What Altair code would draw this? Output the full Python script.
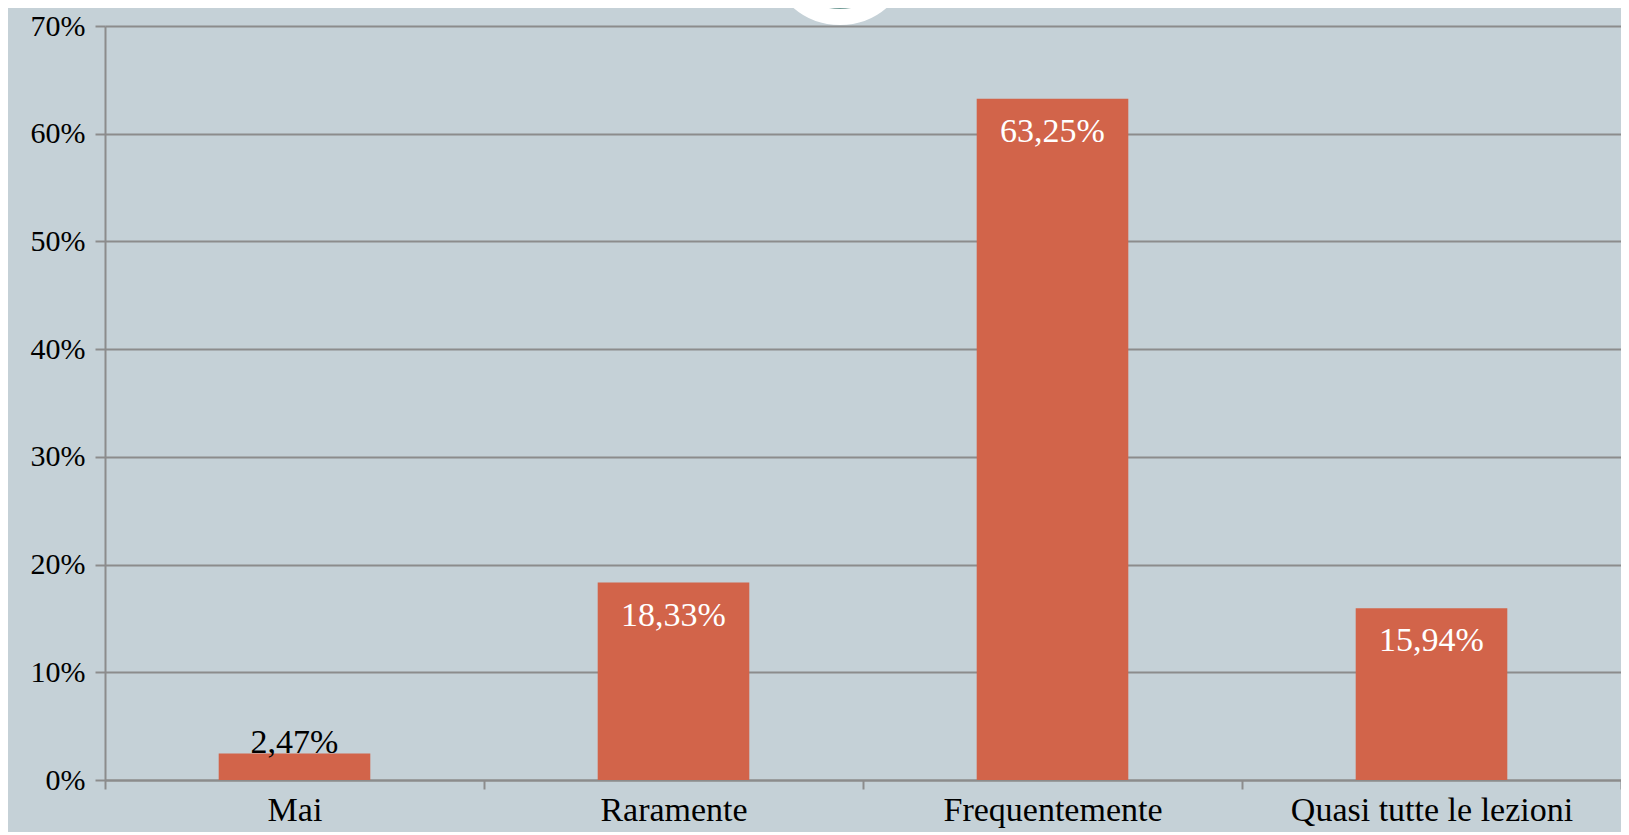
import altair as alt
import pandas as pd

categories = ["Mai", "Raramente", "Frequentemente", "Quasi tutte le lezioni"]
values = [2.47, 18.33, 63.25, 15.94]
labels = ["2,47%", "18,33%", "63,25%", "15,94%"]
y_ticks = [0, 10, 20, 30, 40, 50, 60, 70]

df = pd.DataFrame({"cat": categories, "val": values, "lab": labels})
df["inside"] = df["val"] > 5

FONT = "Liberation Serif"
BAR = "#D2644A"
BG = "#C5D1D7"
GRID = "#8C8C8C"

x_enc = alt.X(
    "cat:N",
    sort=categories,
    title=None,
    scale=alt.Scale(paddingInner=0, paddingOuter=0),
    axis=alt.Axis(
        labelAngle=0,
        labelFont=FONT,
        labelFontSize=34,
        labelColor="black",
        labelPadding=4,
        labelLimit=0,
        domainColor=GRID,
        domainWidth=2,
        tickColor=GRID,
        tickWidth=2,
        tickSize=9,
        tickBand="extent",
        grid=False,
    ),
)
y_enc = alt.Y(
    "val:Q",
    title=None,
    scale=alt.Scale(domain=[0, 70], nice=False),
    axis=alt.Axis(
        values=y_ticks,
        labelExpr="datum.value + '%'",
        labelFont=FONT,
        labelFontSize=30,
        labelColor="black",
        labelPadding=10,
        domainColor=GRID,
        domainWidth=2,
        tickColor=GRID,
        tickWidth=2,
        tickSize=10,
        gridColor=GRID,
        gridWidth=2,
        gridOpacity=1,
    ),
)

base = alt.Chart(df)

bars = base.mark_bar(color=BAR, width=alt.RelativeBandSize(0.4)).encode(x=x_enc, y=y_enc)

txt_in = base.transform_filter("datum.inside").mark_text(
    font=FONT, fontSize=34, color="white", baseline="top", dy=16
).encode(x=alt.X("cat:N", sort=categories), y="val:Q", text="lab:N")

txt_out = base.transform_filter("!datum.inside").mark_text(
    font=FONT, fontSize=34, color="black", baseline="bottom", dy=7
).encode(x=alt.X("cat:N", sort=categories), y="val:Q", text="lab:N")

logo_df = pd.DataFrame({"k": [1]})
logo_outer = alt.Chart(logo_df).mark_point(
    shape="circle", filled=True, fill="white", stroke="white", opacity=1, size=20164
).encode(x=alt.value(735), y=alt.value(-73))
logo_ring = alt.Chart(logo_df).mark_point(
    shape="circle", filled=False, stroke="#6F9A95", strokeWidth=4, opacity=1, size=11664
).encode(x=alt.value(735), y=alt.value(-73))

chart = (
    alt.layer(logo_outer, logo_ring, bars, txt_in, txt_out)
    .properties(
        width=1516,
        height=754,
        background=BG,
        padding={"left": 97, "top": 18, "right": 0, "bottom": 52},
        autosize=alt.AutoSizeParams(type="none"),
    )
    .configure_view(stroke=None)
)

chart.save("out.html", embed_options={"renderer": "svg", "actions": False})
